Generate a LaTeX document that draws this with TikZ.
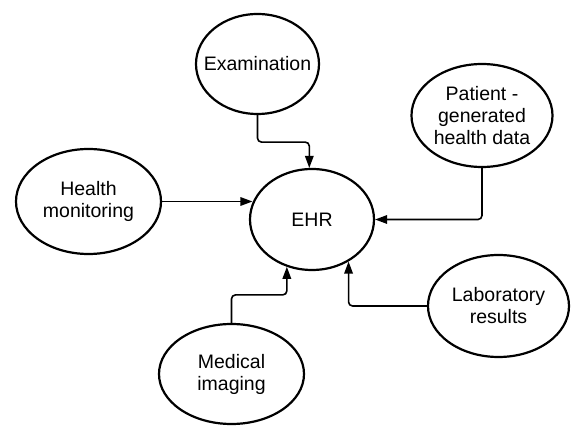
\documentclass[tikz,border=0pt]{standalone}
\usepackage{fontspec}
\setmainfont{Liberation Sans}
\usepackage{tikz}
\usetikzlibrary{arrows.meta,positioning,shapes.geometric}

\begin{document}
\begin{tikzpicture}[
  x=1pt,y=-1pt,
  bubble/.style={draw,line width=2.2pt,ellipse,inner sep=0pt,minimum width=143pt,minimum height=103pt,align=center,font=\fontsize{19.5}{22}\selectfont},
  arrow/.style={-{Triangle[length=12pt,width=8.5pt]},line width=1.6pt,rounded corners=4pt}
]
\useasboundingbox[fill=white] (0,0) rectangle (571,427);
\node[bubble,minimum width=124pt,minimum height=101pt] (ehr) at (312,219.5) {EHR};
\node[bubble,minimum width=123pt,minimum height=100pt,inner xsep=-11pt] (exam) at (257.5,64) {Examination};
\node[bubble,minimum width=141pt] (patient) at (482,115.5) {Patient -\\generated\\health data};
\node[bubble,minimum width=145pt,minimum height=105pt] (health) at (88.5,201.5) {Health\\monitoring};
\node[bubble,minimum width=141pt,minimum height=102pt] (lab) at (498.5,306) {Laboratory\\results};
\node[bubble,minimum width=145pt,minimum height=100pt] (imaging) at (231.5,374) {Medical\\imaging};

\draw[arrow] (exam.south) -- ++(0,27) -| (ehr.93);
\draw[arrow] (health.east) -- (health.east -| ehr.164);
\draw[arrow] (patient.south) |- (ehr.east);
\draw[arrow] (lab.west) -| (ehr.-49.5);
\draw[arrow] (imaging.north) -- ++(0,-28) -| (ehr.-118.5);
\end{tikzpicture}
\end{document}
